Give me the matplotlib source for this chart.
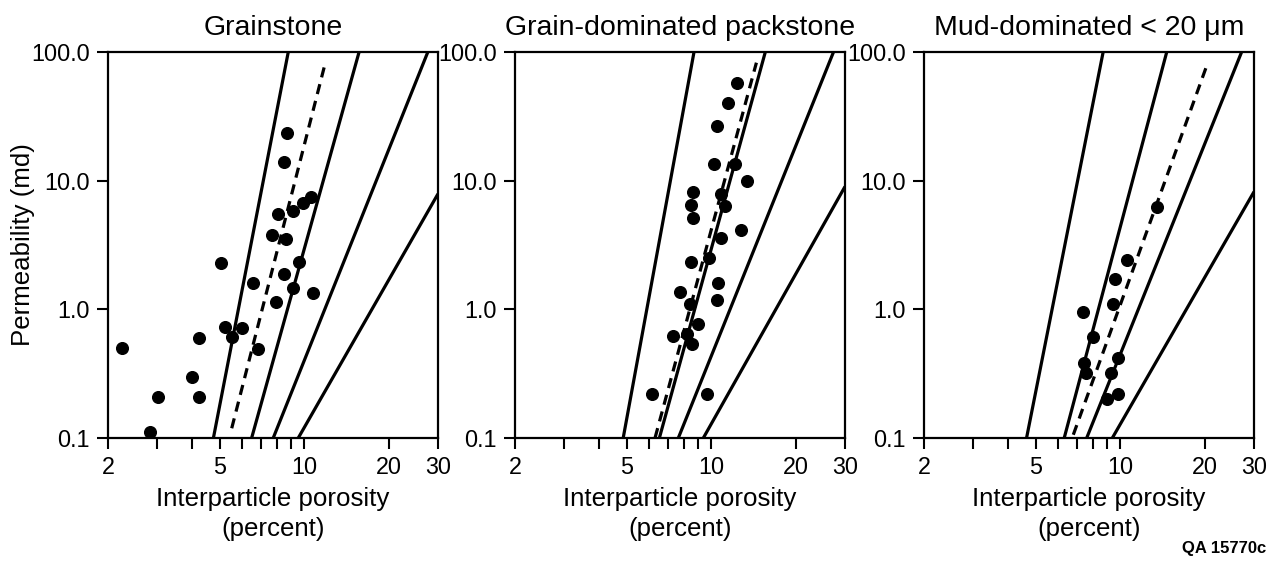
import matplotlib
matplotlib.use("Agg")
import matplotlib.pyplot as plt
from matplotlib.ticker import FixedLocator, FixedFormatter, NullLocator

plt.rcParams['font.family'] = ['Liberation Sans', 'DejaVu Sans']

# ---------------- data ----------------
titles = ["Grainstone", "Grain-dominated packstone", "Mud-dominated < 20 \u03bcm"]

# Grainstone points (porosity %, permeability md)
gs_phi = [8.67, 8.48, 10.55, 9.93, 9.15, 8.09, 7.66, 8.6, 5.04, 9.61, 8.5, 6.56, 9.1,
          10.78, 7.94, 5.22, 6.02, 5.52, 4.23, 6.83, 2.24, 3.98, 3.02, 4.23, 2.82]
gs_k = [23.3, 14.0, 7.5, 6.7, 5.8, 5.5, 3.8, 3.5, 2.28, 2.35, 1.88, 1.6, 1.47,
        1.33, 1.15, 0.73, 0.72, 0.61, 0.6, 0.49, 0.5, 0.3, 0.21, 0.207, 0.112]

# Grain-dominated packstone points
gp_phi = [12.4, 11.5, 10.47, 10.26, 12.16, 13.39, 8.6, 10.82, 8.48, 11.2, 8.64, 12.74,
          10.82, 9.83, 8.46, 10.55, 7.75, 10.47, 8.41, 9.0, 7.3, 8.22, 8.57, 6.15, 9.65]
gp_k = [57.7, 40.4, 26.6, 13.4, 13.4, 10.0, 8.2, 7.9, 6.5, 6.3, 5.1, 4.1,
        3.57, 2.49, 2.35, 1.6, 1.36, 1.18, 1.1, 0.77, 0.62, 0.64, 0.54, 0.22, 0.22]

# Mud-dominated points
md_phi = [13.5, 10.55, 9.59, 9.46, 7.39, 7.98, 9.85, 7.43, 7.56, 9.26, 9.8, 8.96]
md_k = [6.2, 2.42, 1.71, 1.1, 0.96, 0.61, 0.42, 0.38, 0.32, 0.32, 0.22, 0.2]

# Solid reference lines: endpoints (porosity, permeability)
gs_lines_phi = [[4.75, 8.78], [6.5, 15.7], [7.76, 27.6], [9.53, 30.0]]
gs_lines_k = [[0.1, 100.0], [0.1, 100.0], [0.1, 100.0], [0.1, 7.9]]
gp_lines_phi = [[4.86, 8.69], [6.54, 15.6], [7.64, 27.3], [9.38, 30.0]]
gp_lines_k = [[0.1, 100.0], [0.1, 100.0], [0.1, 100.0], [0.1, 9.0]]
md_lines_phi = [[4.64, 8.7], [6.32, 14.66], [7.6, 27.1], [9.38, 30.0]]
md_lines_k = [[0.1, 100.0], [0.1, 100.0], [0.1, 100.0], [0.1, 8.2]]

# Dashed fit lines
gs_fit_phi = [5.52, 11.87]
gs_fit_k = [0.119, 80.7]
gp_fit_phi = [6.31, 14.5]
gp_fit_k = [0.1, 82.6]
md_fit_phi = [6.81, 20.6]
md_fit_k = [0.106, 84.1]

x_ticks = [2, 3, 4, 5, 6, 7, 8, 9, 10, 20, 30]
x_ticklabels = ["2", "", "", "5", "", "", "", "", "10", "20", "30"]
y_ticks = [0.1, 1, 10, 100]
y_ticklabels = ["0.1", "1.0", "10.0", "100.0"]

panels = [
    (gs_phi, gs_k, gs_lines_phi, gs_lines_k, gs_fit_phi, gs_fit_k),
    (gp_phi, gp_k, gp_lines_phi, gp_lines_k, gp_fit_phi, gp_fit_k),
    (md_phi, md_k, md_lines_phi, md_lines_k, md_fit_phi, md_fit_k),
]

# ---------------- figure ----------------
W, H = 1276, 570
fig = plt.figure(figsize=(W / 100, H / 100), dpi=100)
lefts_px = [108, 515, 924]
ax_w, ax_top, ax_bot = 330, 52, 438

for i, (title, (px, pk, lphi, lk, fphi, fk)) in enumerate(zip(titles, panels)):
    ax = fig.add_axes([lefts_px[i] / W, (H - ax_bot) / H, ax_w / W, (ax_bot - ax_top) / H])
    ax.set_xscale('log')
    ax.set_yscale('log')
    ax.set_xlim(2, 30)
    ax.set_ylim(0.1, 100)
    for lp, lkk in zip(lphi, lk):
        ax.plot(lp, lkk, color='black', lw=2.3, solid_capstyle='butt')
    ax.plot(fphi, fk, color='black', lw=2.3, linestyle=(0, (3.2, 2.2)))
    ax.plot(px, pk, 'o', color='black', markersize=8.4, linestyle='none', zorder=5)

    ax.xaxis.set_major_locator(FixedLocator(x_ticks))
    ax.xaxis.set_major_formatter(FixedFormatter(x_ticklabels))
    ax.xaxis.set_minor_locator(NullLocator())
    ax.yaxis.set_major_locator(FixedLocator(y_ticks))
    ax.yaxis.set_major_formatter(FixedFormatter(y_ticklabels))
    ax.yaxis.set_minor_locator(NullLocator())
    ax.tick_params(axis='both', direction='out', length=8, width=1.5, labelsize=16.8,
                   colors='black', pad=5)
    for s in ax.spines.values():
        s.set_linewidth(1.6)
    ax.set_title(title, fontsize=20.5, pad=12)
    ax.set_xlabel("Interparticle porosity\n(percent)", fontsize=18.6, labelpad=6,
                  linespacing=1.28)
    if i == 0:
        ax.set_ylabel("Permeability (md)", fontsize=18.6)
        ax.yaxis.set_label_coords(-0.222, 0.5)

fig.text(1266 / W, 1 - 549 / H, "QA 15770c", fontsize=12, fontweight='bold',
         ha='right', va='center')

fig.savefig("out.png", dpi=100, facecolor='white')
